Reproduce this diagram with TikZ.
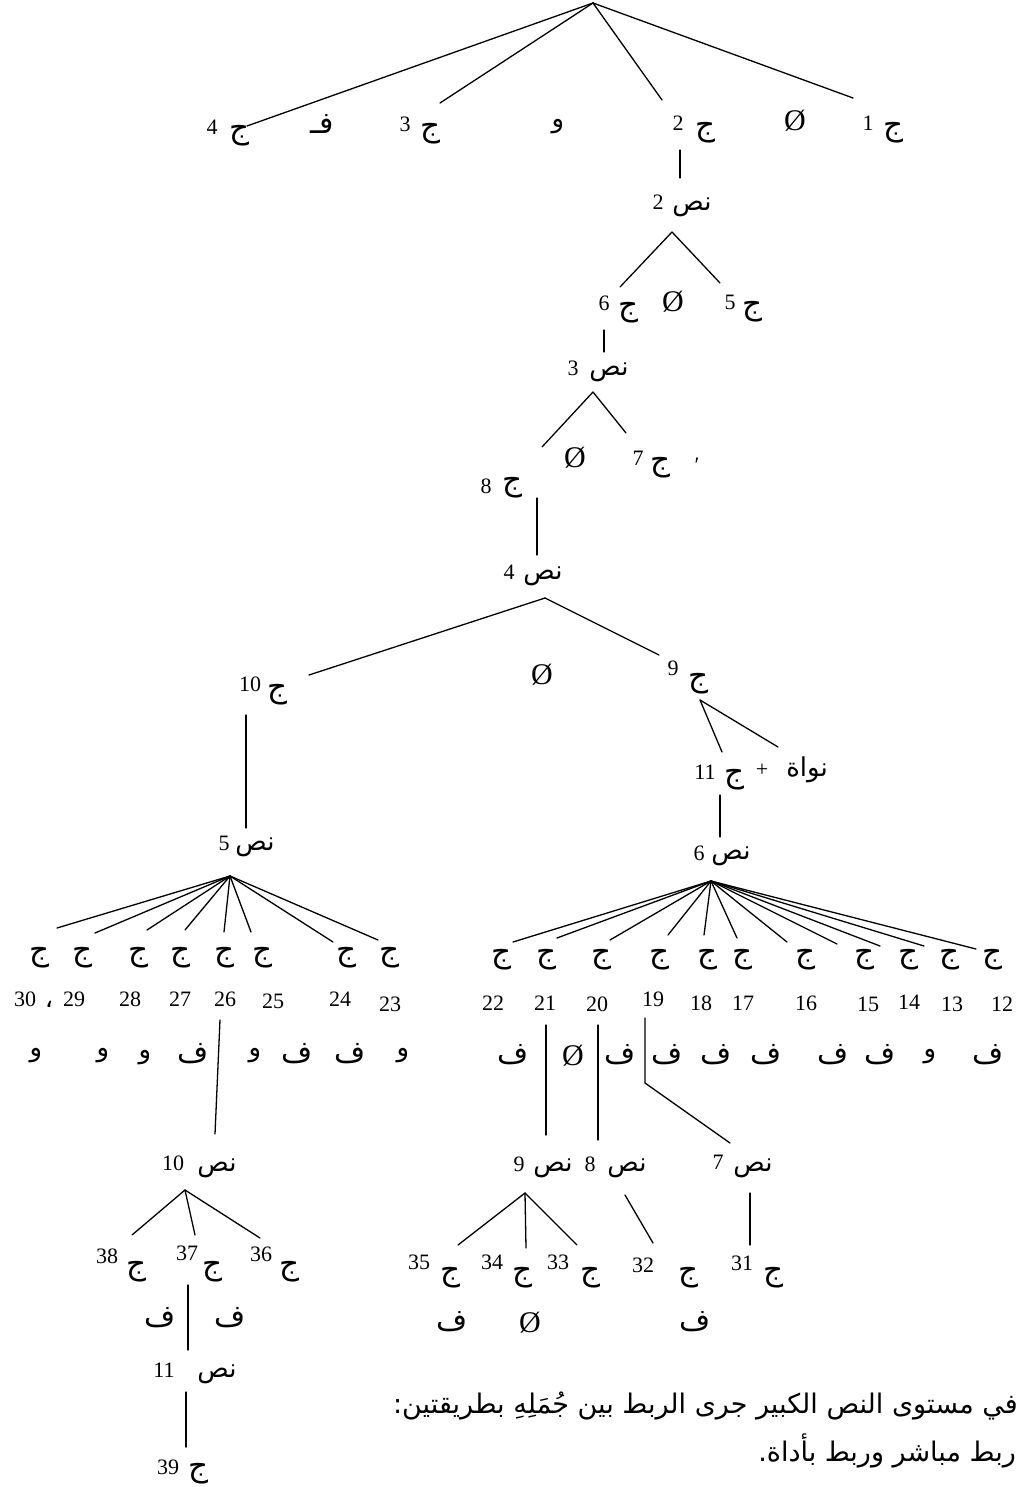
\documentclass[tikz,border=0pt]{standalone}
\usepackage{fontspec}
\setmainfont{Liberation Serif}
\newfontfamily\arabicfont[Script=Arabic]{DejaVu Sans}
\TeXXeTstate=1
\tikzset{
  lnk/.style={line width=1.3pt, line cap=round},
  jm/.style={inner sep=0pt, font=\arabicfont\fontsize{31}{31}\selectfont},
  fm/.style={inner sep=0pt, font=\arabicfont\fontsize{30}{30}\selectfont},
  wm/.style={inner sep=0pt, font=\arabicfont\fontsize{26}{26}\selectfont},
  wd/.style={inner sep=0pt, font=\arabicfont\fontsize{26}{26}\selectfont},
  nm/.style={inner sep=0pt, font=\fontsize{22}{22}\selectfont},
  es/.style={inner sep=0pt, font=\fontsize{30}{30}\selectfont},
  prg/.style={inner sep=0pt, font=\arabicfont\fontsize{27}{27}\selectfont},
}
% ج label: name, xj, yj, number, xn, yn
\newcommand\J[6]{\node[jm] (j#1) at (#2,#3) {ج};\node[nm] (n#1) at (#5,#6) {#4};}
% نص label: name, xw, yw, number, xn, yn
\newcommand\NS[6]{\node[wd] (N#1) at (#2,#3) {\beginR نص\endR};\node[nm] (m#1) at (#5,#6) {#4};}
% ج with number below: name, xj, xn, number, yj, yn
\newcommand\JB[6]{\node[jm] (j#1) at (#2,#5) {ج};\node[nm] (n#1) at (#3,#6) {#4};}
\begin{document}
\begin{tikzpicture}[x=1pt,y=-1pt]
\useasboundingbox (0,0) rectangle (1020,1487);

% ---------- top level ----------
\coordinate (R) at (593,3);
\J{4}{240}{136}{4}{212}{127}
\node[fm] (fA) at (322,124) {فـ};
\J{3}{430}{134}{3}{405}{124}
\node[wm] (wA) at (558,127) {و};
\J{2}{705}{133}{2}{678}{123}
\node[es] (eA) at (795,121) {Ø};
\J{1}{893}{133}{1}{868}{123}
\coordinate (c4) at (247,126);
\coordinate (c3) at (440,103);
\coordinate (c2) at (662,100);
\coordinate (c1) at (853,98);
\draw[lnk] (R) -- (c4);
\draw[lnk] (R) -- (c3);
\draw[lnk] (R) -- (c2);
\draw[lnk] (R) -- (c1);

% ---------- نص 2 ----------
\coordinate (v2a) at (680,150);
\coordinate (v2b) at (680,178);
\draw[lnk] (v2a) -- (v2b);
\NS{2}{692}{207}{2}{658}{202}
\coordinate (a2) at (672,232);
\coordinate (c6) at (620,287);
\coordinate (c5) at (720,283);
\draw[lnk] (a2) -- (c6);
\draw[lnk] (a2) -- (c5);
\J{6}{628}{313}{6}{604}{303}
\node[es] (eB) at (673,302) {Ø};
\J{5}{752}{312}{5}{730}{302}

% ---------- نص 3 ----------
\coordinate (v3a) at (604,330);
\coordinate (v3b) at (604,352);
\draw[lnk] (v3a) -- (v3b);
\NS{3}{609}{372}{3}{573}{368}
\coordinate (a3) at (593,392);
\coordinate (c8) at (542,447);
\coordinate (c7) at (626,433);
\draw[lnk] (a3) -- (c8);
\draw[lnk] (a3) -- (c7);
\node[es] (eC) at (575,458) {Ø};
\J{7}{660}{468}{7}{638}{458}
\node[nm] (pr) at (697,465) {′};
\J{8}{512}{488}{8}{486}{486}

% ---------- نص 4 ----------
\coordinate (v4a) at (537,498);
\coordinate (v4b) at (537,555);
\draw[lnk] (v4a) -- (v4b);
\NS{4}{543}{576}{4}{509}{572}
\coordinate (a4) at (545,598);
\coordinate (c10) at (309,675);
\coordinate (c9) at (659,655);
\draw[lnk] (a4) -- (c10);
\draw[lnk] (a4) -- (c9);
\node[es] (eD) at (542,675) {Ø};
\J{10}{278}{695}{10}{250}{684}
\J{9}{698}{684}{9}{673}{668}

% ---------- ج 9 fork ----------
\coordinate (a9) at (700,700);
\coordinate (c11) at (722,752);
\coordinate (cn) at (778,747);
\draw[lnk] (a9) -- (c11);
\draw[lnk] (a9) -- (cn);
\J{11}{734}{780}{11}{705}{772}
\node[nm] (plus) at (762,770) {+};
\node[wd] (nw) at (807,770) {\beginR نواة\endR};

% ---------- نص 5 / نص 6 ----------
\coordinate (v5a) at (246,715);
\coordinate (v5b) at (246,828);
\draw[lnk] (v5a) -- (v5b);
\NS{5}{255}{847}{5}{224}{843}
\coordinate (v6a) at (720,795);
\coordinate (v6b) at (720,837);
\draw[lnk] (v6a) -- (v6b);
\NS{6}{731}{856}{6}{699}{853}

% ---------- fan of نص 5 ----------
\coordinate (a5) at (230,876);
\foreach \n/\x/\y in {30/57/928,29/95/933,28/147/930,27/185/930,26/224/932,25/251/932,24/333/942,23/378/940}
  {\coordinate (c\n) at (\x,\y); \draw[lnk] (a5) -- (c\n);}
\JB{30}{40}{25}{30}{958}{999}
\JB{29}{83}{74}{29}{958}{999}
\JB{28}{139}{130}{28}{958}{999}
\JB{27}{181}{180}{27}{958}{999}
\JB{26}{225}{225}{26}{958}{999}
\JB{25}{263}{273}{25}{958}{1001}
\JB{24}{346}{340}{24}{958}{999}
\JB{23}{389}{390}{23}{958}{1004}
\node[wm] (cm) at (49,1004) {،};
\node[wm] (wL1) at (36,1056) {و};
\node[wm] (wL2) at (103,1056) {و};
\node[wm] (wL3) at (145,1058) {و};
\node[fm] (fL1) at (193,1054) {ف};
\node[wm] (wL4) at (255,1056) {و};
\node[fm] (fL2) at (297,1054) {ف};
\node[fm] (fL3) at (350,1054) {ف};
\node[wm] (wL5) at (403,1056) {و};

% ---------- fan of نص 6 ----------
\coordinate (a6) at (711,881);
\foreach \n/\x/\y in {22/513/942,21/557/938,20/610/940,19/668/935,18/704/935,17/737/938,16/787/942,15/837/944,14/880/946,13/924/946,12/976/949}
  {\coordinate (c\n) at (\x,\y); \draw[lnk] (a6) -- (c\n);}
\JB{22}{501}{493}{22}{960}{1003}
\JB{21}{546}{545}{21}{960}{1003}
\JB{20}{601}{597}{20}{960}{1004}
\JB{19}{659}{653}{19}{960}{999}
\JB{18}{707}{701}{18}{960}{1003}
\JB{17}{742}{743}{17}{960}{1003}
\JB{16}{805}{806}{16}{960}{1003}
\JB{15}{864}{868}{15}{960}{1004}
\JB{14}{908}{909}{14}{960}{1002}
\JB{13}{949}{952}{13}{960}{1004}
\JB{12}{992}{1002}{12}{960}{1004}
\node[fm] (fR1) at (513,1055) {ف};
\node[es] (eE) at (573,1056) {Ø};
\node[fm] (fR2) at (620,1055) {ف};
\node[fm] (fR3) at (667,1055) {ف};
\node[fm] (fR4) at (716,1055) {ف};
\node[fm] (fR5) at (766,1055) {ف};
\node[fm] (fR6) at (833,1055) {ف};
\node[fm] (fR7) at (880,1055) {ف};
\node[wm] (wR1) at (930,1057) {و};
\node[fm] (fR8) at (988,1055) {ف};

% ---------- نص 10 branch ----------
\coordinate (v10a) at (220,1020);
\coordinate (v10b) at (215,1134);
\draw[lnk] (v10a) -- (v10b);
\NS{10}{217}{1168}{10}{173}{1163}
\coordinate (a10) at (185,1190);
\coordinate (c38) at (132,1235);
\coordinate (c37) at (195,1235);
\coordinate (c36) at (260,1238);
\draw[lnk] (a10) -- (c38);
\draw[lnk] (a10) -- (c37);
\draw[lnk] (a10) -- (c36);
\J{38}{137}{1272}{38}{107}{1256}
\J{37}{213}{1272}{37}{187}{1253}
\J{36}{290}{1272}{36}{261}{1254}
\node[fm] (fB1) at (160,1318) {ف};
\node[fm] (fB2) at (230,1318) {ف};
\coordinate (v11a) at (188,1285);
\coordinate (v11b) at (188,1350);
\draw[lnk] (v11a) -- (v11b);
\NS{11}{217}{1374}{11}{164}{1370}
\coordinate (v39a) at (186,1392);
\coordinate (v39b) at (186,1447);
\draw[lnk] (v39a) -- (v39b);
\J{39}{199}{1474}{39}{168}{1467}

% ---------- نص 9, 8, 7 ----------
\coordinate (v9a) at (546,1025);
\coordinate (v9b) at (546,1135);
\draw[lnk] (v9a) -- (v9b);
\coordinate (v8a) at (598,1025);
\coordinate (v8b) at (598,1140);
\draw[lnk] (v8a) -- (v8b);
\coordinate (v7a) at (645,1018);
\coordinate (v7k) at (645,1083);
\coordinate (v7b) at (730,1143);
\draw[lnk] (v7a) -- (v7k) -- (v7b);
\NS{9}{553}{1168}{9}{519}{1164}
\NS{8}{627}{1168}{8}{590}{1164}
\NS{7}{753}{1168}{7}{718}{1162}
\coordinate (a9b) at (525,1193);
\coordinate (c35) at (458,1245);
\coordinate (c34) at (526,1248);
\coordinate (c33) at (577,1245);
\draw[lnk] (a9b) -- (c35);
\draw[lnk] (a9b) -- (c34);
\draw[lnk] (a9b) -- (c33);
\coordinate (a8) at (625,1195);
\coordinate (c32) at (653,1243);
\draw[lnk] (a8) -- (c32);
\coordinate (a7) at (750,1193);
\coordinate (c31) at (750,1245);
\draw[lnk] (a7) -- (c31);
\J{35}{450}{1278}{35}{419}{1262}
\J{34}{522}{1278}{34}{492}{1262}
\J{33}{590}{1278}{33}{558}{1262}
\J{32}{688}{1278}{32}{643}{1265}
\J{31}{773}{1278}{31}{742}{1263}
\node[fm] (fC1) at (452,1322) {ف};
\node[es] (eF) at (530,1323) {Ø};
\node[fm] (fC2) at (695,1322) {ف};

% ---------- paragraph ----------
\node[prg, anchor=east] (t1) at (1018,1406) {\beginR في مستوى النص الكبير جرى الربط بين جُمَلِهِ بطريقتين:\endR};
\node[prg, anchor=east] (t2) at (1016,1451) {\beginR ربط مباشر وربط بأداة.\endR};
\end{tikzpicture}
\end{document}
